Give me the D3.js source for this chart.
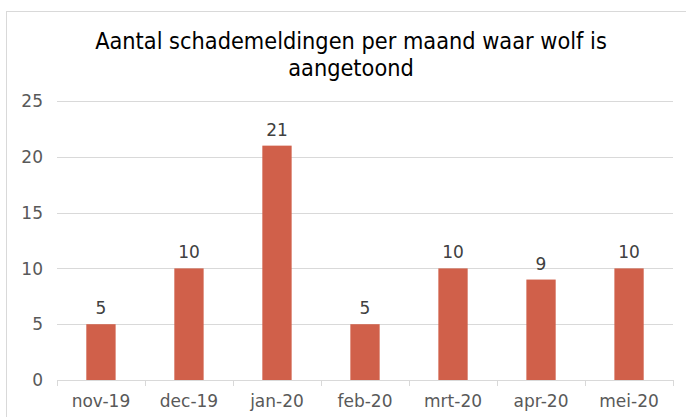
<!DOCTYPE html>
<html><head><meta charset="utf-8">
<script src="https://cdn.jsdelivr.net/npm/d3@7"></script>
<style>body{margin:0;background:#fff}svg{display:block}</style>
</head><body>
<script>
const categories = ["nov-19","dec-19","jan-20","feb-20","mrt-20","apr-20","mei-20"];
const values = [5,10,21,5,10,9,10];
const yTicks = [0,5,10,15,20,25];
const titleLines = ["Aantal schademeldingen per maand waar wolf is","aangetoond"];

const W=686,H=417;
const svg=d3.select("body").append("svg").attr("width",W).attr("height",H);
svg.append("rect").attr("x",6.5).attr("y",11.5).attr("width",W+10).attr("height",H+10)
  .attr("fill","#fff").attr("stroke","#d9d9d9");

const m={left:57,right:673,top:101,bottom:380};
const x=d3.scaleBand().domain(categories).range([m.left,m.right]).paddingInner(0.667).paddingOuter(0.333);
const y=d3.scaleLinear().domain([0,25]).range([m.bottom,m.top]);

const font="DejaVu Sans";
const fs=17;
// gridlines
svg.append("g").selectAll("line").data(yTicks.filter(d=>d>0)).join("line")
  .attr("x1",m.left).attr("x2",m.right).attr("y1",d=>Math.round(y(d))+0.5).attr("y2",d=>Math.round(y(d))+0.5)
  .attr("stroke","#d9d9d9");
// y labels
svg.append("g").selectAll("text").data(yTicks).join("text")
  .attr("x",43).attr("y",d=>y(d)).attr("dy","0.36em").attr("text-anchor","end")
  .attr("font-family",font).attr("font-size",fs).attr("fill","#595959").text(d=>d);

// bars
svg.append("g").selectAll("rect").data(values).join("rect")
  .attr("x",(d,i)=>x(categories[i])).attr("width",x.bandwidth())
  .attr("y",d=>y(d)).attr("height",d=>y(0)-y(d)).attr("fill","#d0604a");
// value labels
svg.append("g").selectAll("text").data(values).join("text")
  .attr("x",(d,i)=>x(categories[i])+x.bandwidth()/2).attr("y",d=>y(d)-10)
  .attr("text-anchor","middle").attr("font-family",font).attr("font-size",fs).attr("fill","#404040").text(d=>d);

// x axis
const xa=svg.append("g").attr("transform",`translate(0,${m.bottom+0.5})`)
  .call(d3.axisBottom(x).tickSize(0).tickPadding(14));
xa.select(".domain").attr("stroke","#d9d9d9").attr("d",`M${m.left},0H${m.right}`);
xa.selectAll("text").attr("font-family",font).attr("font-size",fs).attr("fill","#595959");
const step=x.step();
svg.append("g").selectAll("line").data(d3.range(categories.length+1)).join("line")
  .attr("x1",i=>Math.round(m.left+i*step)+0.5).attr("x2",i=>Math.round(m.left+i*step)+0.5)
  .attr("y1",m.bottom).attr("y2",m.bottom+6).attr("stroke","#d9d9d9");

// title
const tt=svg.append("g").selectAll("text").data(titleLines).join("text")
  .attr("x",351).attr("y",(d,i)=>49+i*27).attr("text-anchor","middle")
  .attr("font-family","DejaVu Sans Condensed, DejaVu Sans").attr("font-size",20).attr("fill","#000").text(d=>d);
const w0=tt.node().getComputedTextLength();
tt.attr("font-size",20*512/w0);
</script>
</body></html>
